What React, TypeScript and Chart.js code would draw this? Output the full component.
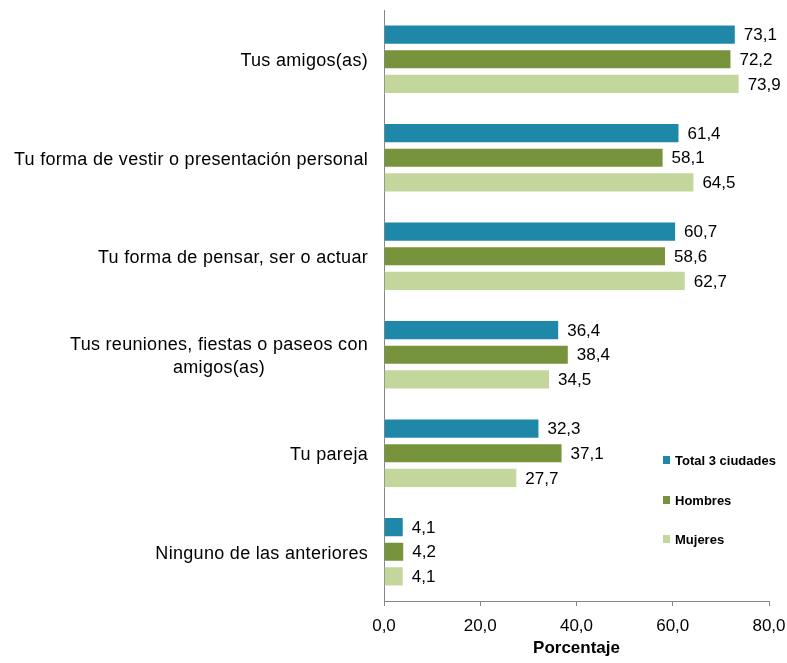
import React, { useEffect, useRef } from "react";
import { Chart, registerables } from "chart.js";

Chart.register(...registerables);

const categories: string[][] = [
  ["Tus amigos(as)"],
  ["Tu forma de vestir o presentación personal"],
  ["Tu forma de pensar, ser o actuar"],
  ["Tus reuniones, fiestas o paseos con", "amigos(as)"],
  ["Tu pareja"],
  ["Ninguno de las anteriores"],
];

const seriesNames = ["Total 3 ciudades", "Hombres", "Mujeres"];
const totalValues = [73.1, 61.4, 60.7, 36.4, 32.3, 4.1];
const hombresValues = [72.2, 58.1, 58.6, 38.4, 37.1, 4.2];
const mujeresValues = [73.9, 64.5, 62.7, 34.5, 27.7, 4.1];
const seriesColors = ["#1F87A8", "#77933C", "#C3D69B"];
const xTicks = [0, 20, 40, 60, 80];

const fmt = (v: number) => v.toFixed(1).replace(".", ",");
const FONT = "'Liberation Sans', Arial, sans-serif";

const labelsPlugin = {
  id: "customLabels",
  afterDraw(chart: any) {
    const ctx = chart.ctx;
    const area = chart.chartArea;
    const yScale = chart.scales.y;
    ctx.save();
    // category labels (multi-line block right-aligned, lines centered)
    ctx.font = `18px ${FONT}`;
    (ctx as any).letterSpacing = "0.3px";
    ctx.fillStyle = "#000";
    ctx.textBaseline = "middle";
    ctx.textAlign = "center";
    const lineH = 23;
    categories.forEach((lines, i) => {
      const cy = yScale.getPixelForValue(i);
      const maxW = Math.max(...lines.map((l) => ctx.measureText(l).width));
      const cx = area.left - 16 - maxW / 2;
      const startY = cy - ((lines.length - 1) * lineH) / 2;
      lines.forEach((l, j) => ctx.fillText(l, cx, startY + j * lineH + 2));
    });
    // value labels
    ctx.font = `17px ${FONT}`;
    (ctx as any).letterSpacing = "0px";
    ctx.textAlign = "left";
    chart.data.datasets.forEach((ds: any, di: number) => {
      const meta = chart.getDatasetMeta(di);
      meta.data.forEach((bar: any, i: number) => {
        ctx.fillText(fmt(ds.data[i]), bar.x + 8, bar.y + 1);
      });
    });
    // legend
    ctx.font = `bold 13px ${FONT}`;
    const lx = area.right - 106;
    const ly = [460, 500, 539];
    seriesNames.forEach((n, i) => {
      ctx.fillStyle = seriesColors[i];
      ctx.fillRect(lx, ly[i] - 4, 7, 8);
      ctx.fillStyle = "#000";
      ctx.fillText(n, lx + 12, ly[i] + 1);
    });
    ctx.restore();
  },
};

export default function App() {
  const ref = useRef<HTMLCanvasElement>(null);
  useEffect(() => {
    if (!ref.current) return;
    const chart = new Chart(ref.current, {
      type: "bar",
      data: {
        labels: categories.map((c) => c.join(" ")),
        datasets: [
          { label: seriesNames[0], data: totalValues, backgroundColor: seriesColors[0] },
          { label: seriesNames[1], data: hombresValues, backgroundColor: seriesColors[1] },
          { label: seriesNames[2], data: mujeresValues, backgroundColor: seriesColors[2] },
        ].map((d) => ({
          ...d,
          borderColor: "rgba(255,255,255,0.6)",
          borderWidth: 1,
          categoryPercentage: 0.75,
          barPercentage: 0.82,
        })),
      },
      options: {
        indexAxis: "y",
        animation: false,
        responsive: true,
        maintainAspectRatio: false,
        layout: { padding: { top: 10, right: 18, left: 0, bottom: 0 } },
        plugins: { legend: { display: false }, tooltip: { enabled: false } },
        scales: {
          x: {
            min: 0,
            max: 80,
            afterBuildTicks: (scale: any) => {
              scale.ticks = xTicks.map((v) => ({ value: v }));
            },
            ticks: {
              callback: (v: any) => fmt(Number(v)),
              font: { family: FONT, size: 17 },
              color: "#000",
              padding: 10,
              maxRotation: 0,
            },
            grid: {
              drawOnChartArea: false,
              drawTicks: true,
              tickLength: 5,
              color: "#868686",
            },
            border: { color: "#868686" },
            title: {
              display: true,
              text: "Porcentaje",
              font: { family: FONT, size: 17, weight: "bold" },
              color: "#000",
              padding: { top: 0, bottom: 4 },
            },
            afterFit: (scale: any) => {
              scale.height = 62;
              scale.paddingLeft = 0;
              scale.paddingRight = 0;
            },
          },
          y: {
            ticks: { display: false },
            grid: { display: false, drawTicks: false },
            border: { display: true, color: "#868686" },
            afterFit: (scale: any) => {
              scale.width = 384;
              scale.paddingTop = 0;
              scale.paddingBottom = 0;
            },
          },
        },
      } as any,
      plugins: [labelsPlugin],
    });
    return () => chart.destroy();
  }, []);
  return (
    <div style={{ position: "fixed", left: 0, top: 0, width: 787, height: 663, background: "#fff" }}>
      <canvas ref={ref} />
    </div>
  );
}
